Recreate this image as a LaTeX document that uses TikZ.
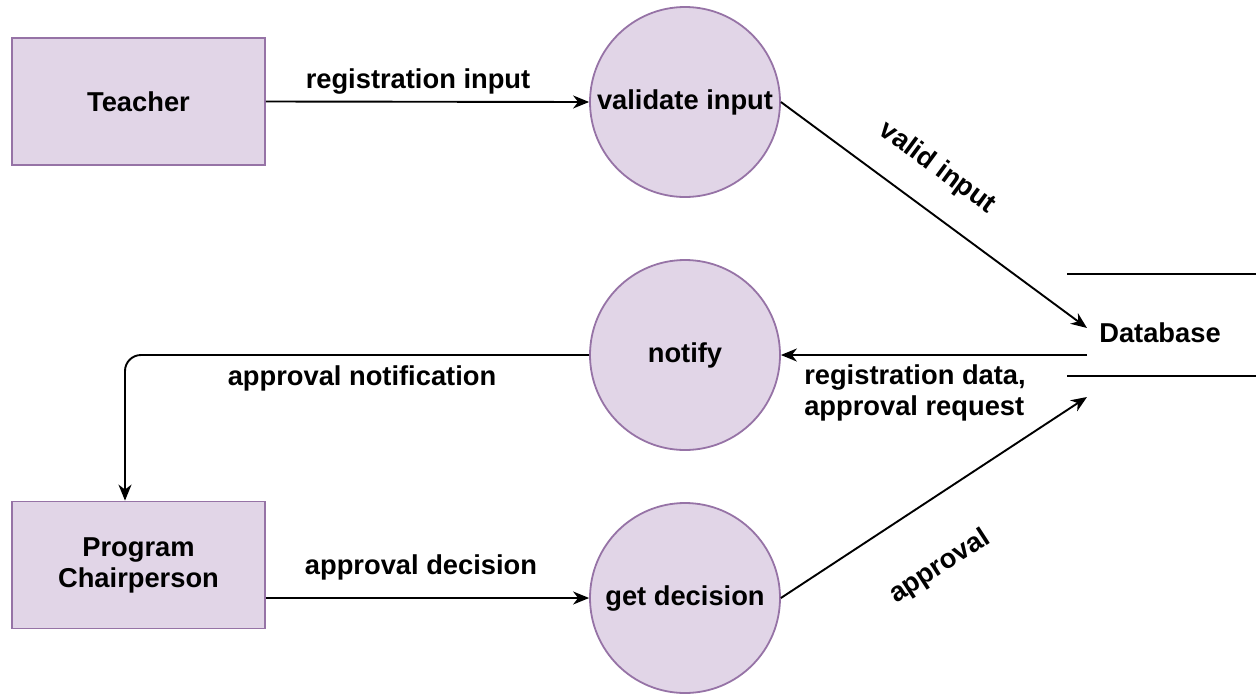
\documentclass[tikz,border=0pt]{standalone}
\usepackage{fontspec}
\setmainfont{Liberation Sans}
\usetikzlibrary{arrows.meta,calc}
\definecolor{pfill}{HTML}{E1D5E7}
\definecolor{pdraw}{HTML}{9673A6}
\begin{document}
\begin{tikzpicture}[x=1pt,y=-1pt,
  every node/.style={font=\fontsize{27.3}{31}\selectfont\bfseries, inner sep=0pt},
  entity/.style={draw=pdraw, fill=pfill, line width=1.8pt, minimum width=253pt, minimum height=127pt, align=center},
  proc/.style={circle, draw=pdraw, fill=pfill, line width=1.8pt, minimum size=190pt, align=center},
  flow/.style={line width=1.9pt, -{Stealth[length=16pt,width=13pt,inset=5pt]}},
  lbl/.style={align=center}]
\path[use as bounding box] (0,0) rectangle (1256,694);
% entities
\node[entity] (teacher) at (138.5,101.5) {Teacher};
\node[entity] (chair) at (138.5,565) {Program\\Chairperson};
% processes
\node[proc] (validate) at (685,102) {validate input};
\node[proc] (notify) at (685,355) {notify};
\node[proc] (decision) at (685,598) {get decision};
% data store
\coordinate (dbtl) at (1067,274);
\coordinate (dbtr) at (1256,274);
\coordinate (dbbl) at (1067,376);
\coordinate (dbbr) at (1256,376);
\draw[line width=1.9pt] (dbtl) -- (dbtr);
\draw[line width=1.9pt] (dbbl) -- (dbbr);
\node (db) at (1160,333) {Database};
\coordinate (dbin1) at (1087,328);
\coordinate (dbout) at (1087,355);
\coordinate (dbin2) at (1087,397);
% flows
\draw[flow] (teacher.east) -- (validate.west);
\node[lbl] (l1) at (418,81) {registration input};
\draw[flow] (validate.east) -- (dbin1);
\node[lbl, rotate=-36.4] (l2) at (937,168) {valid input};
\draw[flow] (dbout) -- (notify.east);
\node[align=left] (l3) at (915,393) {registration data,\\approval request};
\draw[flow, rounded corners=16pt] (notify.west) -| ([xshift=-13.5pt]chair.north);
\node[lbl] (l4) at (362,378) {approval notification};
\draw[flow] (chair.east |- decision.west) -- (decision.west);
\node[lbl] (l5) at (421,567) {approval decision};
\draw[flow] (decision.east) -- (dbin2);
\node[lbl, rotate=33] (l6) at (940,567) {approval};
\end{tikzpicture}
\end{document}
